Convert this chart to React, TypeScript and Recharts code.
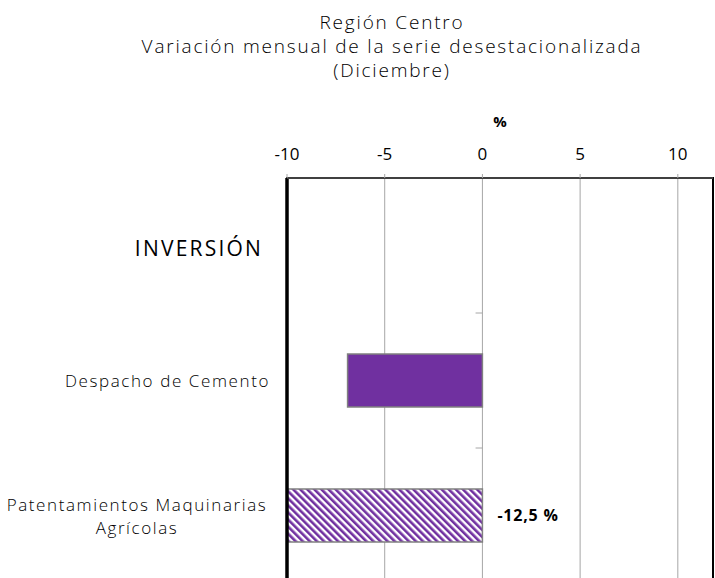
import React from "react";
import {
  BarChart,
  Bar,
  XAxis,
  YAxis,
  CartesianGrid,
  ReferenceArea,
  ReferenceLine,
  LabelList,
} from "recharts";

const FONT = "'Open Sans', 'DejaVu Sans', sans-serif";
const PURPLE = "#7030A0";

const titleLines = ["Región Centro", "Variación mensual de la serie desestacionalizada", "(Diciembre)"];
const categories = ["INVERSIÓN", "Despacho de Cemento", "Patentamientos Maquinarias\nAgrícolas"];
const headerRows = [true, false, false];
const values: (number | null)[] = [null, -6.9, -12.5];
const valueLabels: (string | null)[] = [null, null, "-12,5 %"];
const hatched = [false, false, true];
const xTicks = [-10, -5, 0, 5, 10];
const xDomain = [-10, 11.8];

const data = categories.map((name, i) => ({
  name,
  value: values[i],
  label: valueLabels[i],
  hatched: hatched[i],
}));

const CategoryTick = (props: any) => {
  const { x, y, payload, index } = props;
  const lines = String(payload.value).split("\n");
  if (headerRows[index]) {
    return (
      <text x={x - 24} y={y} dy={10} textAnchor="end" fontSize={21} fontWeight={500} letterSpacing={2.2} fill="#000" fontFamily={FONT}>
        {lines[0]}
      </text>
    );
  }
  if (lines.length === 1) {
    return (
      <text x={x - 17} y={y} dy={6} textAnchor="end" fontSize={17} fontWeight={300} letterSpacing={1.6} fill="#000" fontFamily={FONT}>
        {lines[0]}
      </text>
    );
  }
  return (
    <g>
      {lines.map((line, i) => (
        <text
          key={i}
          x={x - 150}
          y={y + (i - (lines.length - 1) / 2) * 23}
          dy={7}
          textAnchor="middle"
          fontSize={17}
          fontWeight={300}
          letterSpacing={1.6}
          fill="#000"
          fontFamily={FONT}
        >
          {line}
        </text>
      ))}
    </g>
  );
};

const BarShape = (props: any) => {
  const { x, y, width, height, payload, index } = props;
  const left = Math.min(x, x + width);
  const w = Math.abs(width);
  const pid = `hatch-${index}`;
  return (
    <g>
      <defs>
        <pattern id={pid} width={5} height={5} patternUnits="userSpaceOnUse" patternTransform="rotate(-45)">
          <rect width={5} height={5} fill="#fff" />
          <rect width={2.6} height={5} fill={PURPLE} />
        </pattern>
      </defs>
      <rect
        x={left}
        y={y}
        width={w}
        height={height}
        fill={payload.hatched ? `url(#${pid})` : PURPLE}
        stroke="#808080"
        strokeWidth={1.5}
      />
    </g>
  );
};

const ValueLabel = (props: any) => {
  const { x, y, width, height, value } = props;
  if (value == null) return null;
  const zeroX = Math.max(x, x + width);
  return (
    <text x={zeroX + 15} y={y + height / 2} dy={5} fontSize={16} fontWeight={700} letterSpacing={0.8} fill="#000" fontFamily={FONT}>
      {value}
    </text>
  );
};

export default function App() {
  return (
    <div
      style={{
        position: "fixed",
        top: 0,
        left: 0,
        width: 715,
        height: 578,
        overflow: "hidden",
        background: "#fff",
        fontFamily: FONT,
      }}
    >
      <div
        style={{
          position: "absolute",
          top: 10,
          left: 92,
          width: 600,
          textAlign: "center",
          fontSize: 19,
          fontWeight: 300,
          lineHeight: "24px",
          letterSpacing: 1.8,
          color: "#000",
        }}
      >
        {titleLines.map((t) => (
          <div key={t}>{t}</div>
        ))}
      </div>
      <BarChart
        layout="vertical"
        width={715}
        height={590}
        data={data}
        margin={{ top: 112, right: 2, left: 0, bottom: 7 }}
        barSize={53}
      >
        <CartesianGrid horizontal={false} stroke="#a6a6a6" />
        <XAxis
          type="number"
          orientation="top"
          domain={xDomain}
          ticks={xTicks}
          allowDataOverflow
          height={66}
          tickSize={4}
          tickMargin={14}
          axisLine={{ stroke: "#808080" }}
          tickLine={{ stroke: "#a6a6a6" }}
          tick={{ fill: "#000", fontSize: 17, fontWeight: 500, fontFamily: FONT }}
          label={{ value: "%", position: "insideTop", offset: 4, fill: "#000", fontSize: 15, fontWeight: 700, fontFamily: FONT }}
        />
        <YAxis
          type="category"
          dataKey="name"
          width={287}
          tickLine={false}
          axisLine={false}
          tickSize={0}
          tickMargin={0}
          interval={0}
          tick={<CategoryTick />}
        />
        <Bar dataKey="value" isAnimationActive={false} shape={<BarShape />}>
          <LabelList dataKey="label" content={<ValueLabel />} />
        </Bar>
        {categories.slice(1).map((c) => (
          <ReferenceLine
            key={c}
            position="start"
            segment={[
              { x: -0.35, y: c },
              { x: 0, y: c },
            ]}
            stroke="#a6a6a6"
          />
        ))}
        <ReferenceArea x1={xDomain[0]} x2={xDomain[1]} fill="none" stroke="#000" strokeWidth={2} />
        <ReferenceLine x={xDomain[0]} stroke="#000" strokeWidth={3.5} />
      </BarChart>
    </div>
  );
}
